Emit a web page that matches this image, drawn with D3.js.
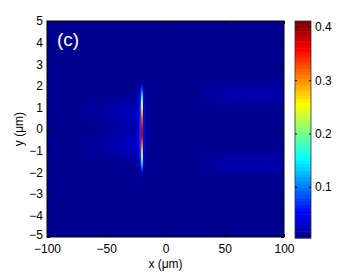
<!DOCTYPE html>
<html>
<head>
<meta charset="utf-8">
<script src="https://cdn.jsdelivr.net/npm/d3@7"></script>
<style>
  body { margin: 0; background: #fff; }
  svg text { font-family: "Liberation Sans", Arial, sans-serif; }
</style>
</head>
<body>
<div id="chart"></div>
<script>
// column edges (x, um) and row edges (y, um) of the field
const xEdges = [-100, -70, -50, -35, -25, -22, -20.8, -19, -17.5, -13, 0, 30, 45, 65, 100];
const yEdges = [2.4, 2.0, 1.6, 1.2, 0.8, 0.4, 0, -0.4, -0.8, -1.2, -1.6, -2.0, -2.4];
const background = 0.008;
// intensity per cell, rows top to bottom
const field = [
  [.008, .008, .008, .008, .009, .010, .014, .009, .008, .008, .008, .008, .008, .008],
  [.008, .008, .008, .010, .014, .025, .050, .016, .008, .008, .008, .011, .017, .021],
  [.008, .008, .010, .015, .025, .050, .170, .030, .010, .008, .008, .011, .017, .021],
  [.009, .014, .020, .028, .040, .070, .260, .040, .012, .008, .008, .008, .009, .010],
  [.009, .014, .022, .030, .045, .080, .320, .045, .012, .008, .008, .008, .008, .008],
  [.008, .009, .012, .020, .035, .080, .360, .045, .012, .008, .008, .008, .008, .008],
  [.008, .009, .012, .020, .035, .080, .380, .045, .012, .008, .008, .008, .008, .008],
  [.009, .014, .022, .030, .045, .080, .350, .045, .012, .008, .008, .008, .008, .008],
  [.009, .014, .020, .028, .040, .070, .280, .040, .012, .008, .008, .008, .009, .010],
  [.008, .008, .010, .015, .025, .050, .190, .030, .010, .008, .008, .011, .017, .021],
  [.008, .008, .008, .010, .014, .025, .060, .016, .008, .008, .008, .011, .017, .021],
  [.008, .008, .008, .008, .009, .010, .014, .009, .008, .008, .008, .008, .008, .008]
];
const xTicks = [-100, -50, 0, 50, 100];
const yTicks = [-5, -4, -3, -2, -1, 0, 1, 2, 3, 4, 5];
const cTicks = [0.1, 0.2, 0.3, 0.4];
const cRange = [0.004, 0.411];

const W = 357, H = 273;
const plot = { left: 47, right: 284, top: 21, bottom: 237 };
const bar = { left: 295, right: 311, top: 21, bottom: 238 };

// MATLAB jet(64)
const jetC = t => {
  const c = v => Math.max(0, Math.min(1, v));
  return d3.rgb(255 * c(1.5 - Math.abs(4 * t - 3)), 255 * c(1.5 - Math.abs(4 * t - 2)), 255 * c(1.5 - Math.abs(4 * t - 1)));
};
const nLevels = 64;
const level = v => Math.max(0, Math.min(nLevels - 1, Math.floor((v - cRange[0]) / (cRange[1] - cRange[0]) * nLevels)));
const color = v => jetC((level(v) + 1) / nLevels).toString();

const x = d3.scaleLinear().domain([-100, 100]).range([plot.left, plot.right]);
const y = d3.scaleLinear().domain([-5, 5]).range([plot.bottom, plot.top]);
const cy = d3.scaleLinear().domain(cRange).range([bar.bottom, bar.top]);

const svg = d3.select('#chart').append('svg')
  .attr('width', W).attr('height', H);

const defs = svg.append('defs');
defs.append('clipPath').attr('id', 'plotclip')
  .append('rect')
  .attr('x', plot.left).attr('y', plot.top)
  .attr('width', plot.right - plot.left).attr('height', plot.bottom - plot.top);
defs.append('filter').attr('id', 'wide')
  .attr('x', '-5%').attr('y', '-20%').attr('width', '110%').attr('height', '140%')
  .append('feGaussianBlur').attr('stdDeviation', '4 4');
defs.append('filter').attr('id', 'thin')
  .attr('x', '-50%').attr('y', '-20%').attr('width', '200%').attr('height', '140%')
  .append('feGaussianBlur').attr('stdDeviation', '0.5 3.5');

const img = svg.append('g').attr('clip-path', 'url(#plotclip)');
img.append('rect')
  .attr('x', plot.left).attr('y', plot.top)
  .attr('width', plot.right - plot.left).attr('height', plot.bottom - plot.top)
  .attr('fill', color(background));

const cells = [];
field.forEach((row, i) => row.forEach((v, j) => {
  cells.push({ x0: xEdges[j], x1: xEdges[j + 1], y0: yEdges[i], y1: yEdges[i + 1], v });
}));
const narrow = d => d.x1 - d.x0 < 4;

const drawCells = (g, data) => g.selectAll('rect').data(data).enter().append('rect')
  .attr('x', d => x(d.x0))
  .attr('y', d => y(d.y0))
  .attr('width', d => x(d.x1) - x(d.x0) + 0.3)
  .attr('height', d => y(d.y1) - y(d.y0) + 0.3)
  .attr('fill', d => color(d.v));

drawCells(img.append('g').attr('filter', 'url(#wide)'), cells.filter(d => !narrow(d)));
drawCells(img.append('g').attr('filter', 'url(#thin)'), cells.filter(narrow));

// axes, ticks inside on all four sides
const axisStyle = g => {
  g.select('.domain').remove();
  g.selectAll('line').attr('stroke', '#000');
  g.selectAll('text').attr('font-size', 12).attr('fill', '#000');
};
svg.append('g').attr('transform', `translate(0,${plot.bottom})`)
  .call(d3.axisBottom(x).tickValues(xTicks).tickSize(-3).tickPadding(7).tickFormat(d3.format('d')))
  .call(axisStyle);
svg.append('g').attr('transform', `translate(0,${plot.top})`)
  .call(d3.axisTop(x).tickValues(xTicks).tickSize(-3).tickFormat(''))
  .call(axisStyle);
svg.append('g').attr('class', 'yaxis').attr('transform', `translate(${plot.left},0)`)
  .call(d3.axisLeft(y).tickValues(yTicks).tickSize(-3).tickPadding(4).tickFormat(d3.format('d')))
  .call(axisStyle);
svg.select('.yaxis').selectAll('.tick text').filter(d => d === -5).attr('dy', '0.1em');
svg.append('g').attr('transform', `translate(${plot.right},0)`)
  .call(d3.axisRight(y).tickValues(yTicks).tickSize(-3).tickFormat(''))
  .call(axisStyle);
svg.selectAll('.tick text').attr('font-family', '"Liberation Sans", Arial, sans-serif');

svg.append('rect')
  .attr('x', plot.left).attr('y', plot.top)
  .attr('width', plot.right - plot.left).attr('height', plot.bottom - plot.top)
  .attr('fill', 'none').attr('stroke', '#000').attr('stroke-width', 1);

svg.append('text')
  .attr('x', (plot.left + plot.right) / 2).attr('y', 268)
  .attr('text-anchor', 'middle').attr('font-size', 12)
  .text('x (\u03bcm)');
svg.append('text')
  .attr('transform', `translate(23,${(plot.top + plot.bottom) / 2}) rotate(-90)`)
  .attr('text-anchor', 'middle').attr('font-size', 12)
  .text('y (\u03bcm)');
svg.append('text')
  .attr('x', 57).attr('y', 46)
  .attr('fill', '#fff').attr('font-size', 19)
  .text('(c)');

// colorbar
const levels = d3.range(nLevels);
const step = (cRange[1] - cRange[0]) / nLevels;
svg.append('g').selectAll('rect').data(levels).enter().append('rect')
  .attr('x', bar.left)
  .attr('y', k => cy(cRange[0] + (k + 1) * step))
  .attr('width', bar.right - bar.left)
  .attr('height', k => cy(cRange[0] + k * step) - cy(cRange[0] + (k + 1) * step) + 0.5)
  .attr('fill', k => jetC((k + 1) / nLevels).toString());

svg.append('g').attr('transform', `translate(${bar.right},0)`)
  .call(d3.axisRight(cy).tickValues(cTicks).tickSize(-2).tickPadding(4).tickFormat(d3.format('.1f')))
  .call(axisStyle);
svg.append('g').attr('transform', `translate(${bar.left},0)`)
  .call(d3.axisLeft(cy).tickValues(cTicks).tickSize(-2).tickFormat(''))
  .call(axisStyle);
svg.append('rect')
  .attr('x', bar.left).attr('y', bar.top)
  .attr('width', bar.right - bar.left).attr('height', bar.bottom - bar.top)
  .attr('fill', 'none').attr('stroke', '#333').attr('stroke-width', 0.8);
</script>
</body>
</html>
